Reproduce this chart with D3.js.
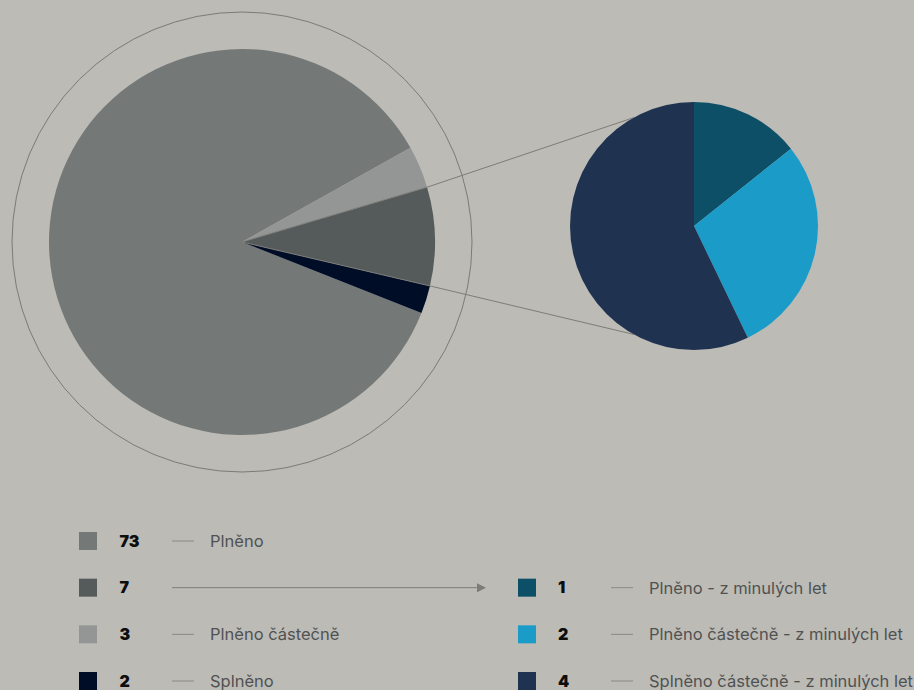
<!DOCTYPE html>
<html>
<head>
<meta charset="utf-8">
<script src="https://cdn.jsdelivr.net/npm/d3@7"></script>
<style>
  html, body { margin: 0; padding: 0; background: #bcbbb6; }
  svg { display: block; }
  text { font-family: Inter, "Open Sans", sans-serif; }
</style>
</head>
<body>
<svg id="chart" width="914" height="690"></svg>
<script>
// Main breakdown (legend order)
const mainLabels = ["Plněno", "", "Plněno částečně", "Splněno"];
const mainValues = [73, 7, 3, 2];
const mainColors = ["#747978", "#555a5a", "#939695", "#000d26"];
// Order in which slices run clockwise around the big pie
const mainDrawOrder = [2, 1, 3, 0];

// Detail of the "7" slice
const detailLabels = ["Plněno - z minulých let", "Plněno částečně - z minulých let", "Splněno částečně - z minulých let"];
const detailValues = [1, 2, 4];
const detailColors = ["#0d4f66", "#1b9bc8", "#1f3350"];

const svg = d3.select("#chart");
const deg = Math.PI / 180;

// ---- big pie ----
const bigC = { x: 242, y: 242 };
const bigR = 193;
const ringR = 230;

const bigPie = d3.pie()
  .value(i => mainValues[i])
  .sort((a, b) => mainDrawOrder.indexOf(a) - mainDrawOrder.indexOf(b))
  .startAngle(60.8 * deg)
  .endAngle(60.8 * deg + 2 * Math.PI);
const bigArcs = bigPie(d3.range(mainValues.length));
const bigArc = d3.arc().innerRadius(0).outerRadius(bigR);

const gBig = svg.append("g").attr("transform", `translate(${bigC.x},${bigC.y})`);
gBig.append("circle").attr("r", ringR)
  .attr("fill", "none").attr("stroke", "#7b7b77").attr("stroke-width", 1);
gBig.selectAll("path").data(bigArcs).join("path")
  .attr("d", bigArc)
  .attr("fill", d => mainColors[d.data]);

// ---- detail pie ----
const smallC = { x: 694, y: 226 };
const smallR = 124;
const smallPie = d3.pie().value(d => d).sort(null);
const smallArcs = smallPie(detailValues);
const smallArc = d3.arc().innerRadius(0).outerRadius(smallR);

// connectors from the "7" slice edges to the detail pie
const seven = bigArcs.find(d => d.data === 1);
const polar = (c, r, a) => [c.x + r * Math.sin(a), c.y - r * Math.cos(a)];
const connectorTargets = [-29 * deg, 209 * deg];
[seven.startAngle, seven.endAngle].forEach((a, i) => {
  const pts = [[bigC.x, bigC.y], polar(bigC, bigR, a), polar(smallC, smallR, connectorTargets[i])];
  svg.append("path")
    .attr("d", d3.line()(pts))
    .attr("fill", "none").attr("stroke", "#7d7d78").attr("stroke-width", 1);
});

const gSmall = svg.append("g").attr("transform", `translate(${smallC.x},${smallC.y})`);
gSmall.selectAll("path").data(smallArcs).join("path")
  .attr("d", smallArc)
  .attr("fill", (d, i) => detailColors[i]);

// ---- legend ----
const rowY = d3.scalePoint().domain(d3.range(4)).range([541, 681]);
const labelSize = 16.5;

const legL = svg.append("g");
mainValues.forEach((v, i) => {
  const y = rowY(i);
  legL.append("rect").attr("x", 79).attr("y", y - 9).attr("width", 18).attr("height", 18)
    .attr("fill", mainColors[i]);
  legL.append("text").attr("x", 119.5).attr("y", y).attr("dy", "0.36em")
    .attr("font-size", 16).attr("font-weight", 900).attr("fill", "#0d0d0d").text(v);
  if (mainLabels[i]) {
    legL.append("line").attr("x1", 172).attr("x2", 194).attr("y1", y).attr("y2", y)
      .attr("stroke", "#8a8a85").attr("stroke-width", 1);
    legL.append("text").attr("x", 210).attr("y", y).attr("dy", "0.36em")
      .attr("font-size", labelSize).attr("fill", "#505252").text(mainLabels[i]);
  }
});

// arrow leading from the "7" row to its breakdown
const ay = rowY(1);
svg.append("line").attr("x1", 172).attr("x2", 478).attr("y1", ay).attr("y2", ay)
  .attr("stroke", "#7d7d78").attr("stroke-width", 1);
svg.append("path")
  .attr("d", d3.line()([[477, ay - 4.5], [486, ay], [477, ay + 4.5]]) + "Z")
  .attr("fill", "#7d7d78");

const legR = svg.append("g");
detailValues.forEach((v, i) => {
  const y = rowY(i + 1);
  legR.append("rect").attr("x", 518).attr("y", y - 9).attr("width", 18).attr("height", 18)
    .attr("fill", detailColors[i]);
  legR.append("text").attr("x", 558).attr("y", y).attr("dy", "0.36em")
    .attr("font-size", 16).attr("font-weight", 900).attr("fill", "#0d0d0d").text(v);
  legR.append("line").attr("x1", 611).attr("x2", 633).attr("y1", y).attr("y2", y)
    .attr("stroke", "#8a8a85").attr("stroke-width", 1);
  legR.append("text").attr("x", 649).attr("y", y).attr("dy", "0.36em")
    .attr("font-size", labelSize).attr("fill", "#505252").text(detailLabels[i]);
});
</script>
</body>
</html>
